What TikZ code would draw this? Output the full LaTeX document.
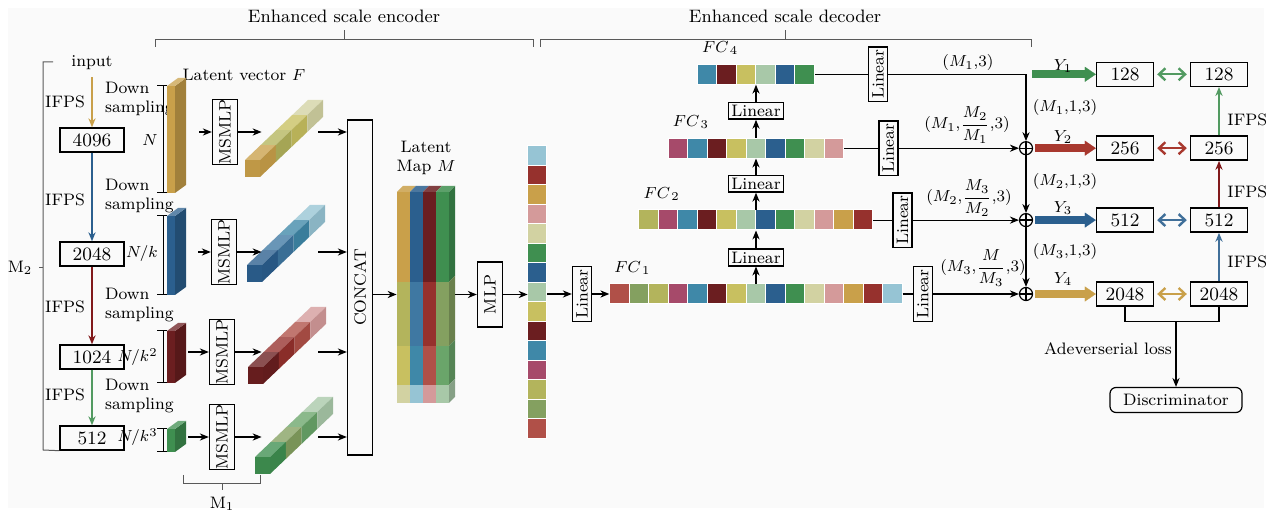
\documentclass[tikz,border=0pt]{standalone}
\usepackage{graphicx}
\usetikzlibrary{positioning,arrows.meta,calc}

\definecolor{pGold}{HTML}{C9A04A}
\definecolor{pOlive}{HTML}{B3B45C}
\definecolor{pYellow}{HTML}{C8C060}
\definecolor{pPale}{HTML}{D2D2A2}
\definecolor{pBlue}{HTML}{2B5F8E}
\definecolor{pSteel}{HTML}{3F78A2}
\definecolor{pTeal}{HTML}{3F88A8}
\definecolor{pLblue}{HTML}{96C4D4}
\definecolor{pDred}{HTML}{6B1E20}
\definecolor{pRed}{HTML}{96312D}
\definecolor{pBrick}{HTML}{B05048}
\definecolor{pPink}{HTML}{D49A9A}
\definecolor{pMag}{HTML}{A64A6A}
\definecolor{pGreen}{HTML}{3F8F50}
\definecolor{pOgreen}{HTML}{84A060}
\definecolor{pLgreen}{HTML}{6AA56A}
\definecolor{pPgreen}{HTML}{A8C8A8}
\definecolor{pArrRed}{HTML}{A8382E}
\definecolor{pBg}{HTML}{FAFAFA}

\begin{document}
\begin{tikzpicture}[
    x=0.5pt, y=-0.5pt,
    >={Stealth[length=4.5pt,width=3.6pt]},
    every node/.style={font=\fontsize{8.3}{9.3}\selectfont},
    head/.style={font=\fontsize{9}{10}\selectfont},
    numbox/.style={draw, line width=0.7pt, minimum width=32pt, minimum height=12pt, inner sep=0pt, font=\fontsize{9.4}{11}\selectfont},
    vbox/.style={draw, line width=0.7pt, inner sep=0pt},
    linbox/.style={draw, line width=0.7pt, inner sep=1.3pt},
    cellrow/.style={inner sep=0pt, minimum height=10pt},
    cell/.style={draw=white, line width=0.2pt},
    bracketline/.style={draw=black!65, line width=0.5pt},
    flow/.style={->, line width=0.55pt},
    ifps/.style={->, line width=1pt},
    fat/.style={-{Triangle[length=5.5pt,width=7.5pt,line width=0.1pt]}, line width=3.8pt, shorten <=1pt},
    dblarrow/.style={{Straight Barb[length=3.2pt,width=6pt]}-{Straight Barb[length=3.2pt,width=6pt]}, line width=1.2pt, shorten <=1.5pt, shorten >=1.5pt},
    oplus/.style={circle, draw, line width=0.6pt, inner sep=0pt, minimum size=6.5pt,
        path picture={\draw[line width=0.6pt] (path picture bounding box.north) -- (path picture bounding box.south)
            (path picture bounding box.west) -- (path picture bounding box.east);}}
]

\fill[white] (0,0) rectangle (1270,512);
\fill[pBg] (8,8) rectangle (1264,508);
\useasboundingbox (0,0) rectangle (1270,512);

% encoder / decoder brackets
\node[head] (encLab) at (344,16) {Enhanced scale encoder};
\draw[bracketline] (155,47) -- (155,40) -- (533,40) -- (533,47) (344,40) -- (344,30);
\node[head] (decLab) at (785,16) {Enhanced scale decoder};
\draw[bracketline] (540,47) -- (540,40) -- (1031,40) -- (1031,47) (785,40) -- (785,30);

% sampling chain
\node (inp) at (92,63) {input};
\node[numbox] (n4096) at (92,140) {4096};
\node[numbox] (n2048) at (92,254) {2048};
\node[numbox] (n1024) at (92,357) {1024};
\node[numbox] (n512) at (92,438) {512};
\draw[ifps, pGold] (inp) -- (n4096);
\draw[ifps, pBlue] (n4096) -- (n2048);
\draw[ifps, pDred!85!red] (n2048) -- (n1024);
\draw[ifps, pGreen!90!white] (n1024) -- (n512);
\foreach \ya/\yb [count=\k] in {102/99, 200/196, 307/305, 395/396}{
    \node (ifpsL\k) at (65,\ya) {IFPS};
    \node[anchor=west, align=left] (downL\k) at (98,\yb) {Down\\sampling};
}
\node (mTwo) at (20,268) {M$_2$};
\draw[bracketline] (53,62) -- (43,62) -- (43,450) -- (n512.south west);
\draw[bracketline] (43,268) -- (mTwo);

% latent vectors F
\node (latF) at (244,75) {Latent vector $F$};
\foreach \yt/\yb/\c/\lab/\ly/\ax/\ay [count=\k] in {
    86/193/pGold/{$N$}/140/199/132,
    216/295/pBlue/{$N/k$}/254/198/252,
    331/383/pDred/{$N/k^2$}/357/188/352,
    429/452/pGreen/{$N/k^3$}/437/188/437}{
    \fill[\c] (167,\yt) rectangle (175,\yb);
    \fill[\c!80!black] (175,\yt) -- (186,{\yt-8}) -- (186,{\yb-8}) -- (175,\yb) -- cycle;
    \fill[\c!75!white] (167,\yt) -- (178,{\yt-8}) -- (186,{\yt-8}) -- (175,\yt) -- cycle;
    \draw[bracketline, draw=black] (157,\yt) -- (167,\yt) (163,\yt) -- (163,\yb) (157,\yb) -- (167,\yb);
    \node[anchor=east, inner sep=1pt] (sizeL\k) at (160,\ly) {\lab};
    \coordinate (bar\k) at (\ax,\ay);
}

\node[vbox, minimum width=12.5pt, minimum height=167.5pt] (concat) at (360,287.5) {\rotatebox{90}{CONCAT}};

% MSMLP rows
\foreach \mx/\my/\fx/\fy/\cA/\cB/\cC/\cD [count=\k] in {
    225/132/245/160/pGold/pOlive/pYellow/pPale,
    224/252/247/265/pBlue/pSteel/pTeal/pLblue,
    222/352/248/367/pDred/pRed/pBrick/pPink,
    222/437/255/457/pGreen/pOgreen/pLgreen/pPgreen}{
    \node[vbox, minimum width=12.5pt, minimum height=32.5pt] (msmlp\k) at (\mx,\my) {\rotatebox{90}{MSMLP}};
    \foreach \c [count=\i from 0] in {\cA,\cB,\cC,\cD}{
        \fill[\c!78!white] ({\fx+15.75*\i},{\fy-15*\i}) -- ++(15,0) -- ++(15.75,-15) -- ++(-15,0) -- cycle;
        \fill[\c!92!black] ({\fx+15+15.75*\i},{\fy-15*\i}) -- ++(0,17) -- ++(15.75,-15) -- ++(0,-17) -- cycle;
    }
    \fill[\cA!95!black] (\fx,\fy) rectangle ++(15,17);
    \node[inner sep=0pt, minimum width=28pt, minimum height=2pt] (feat\k) at (290,\my) {};
    \draw[flow] (bar\k) -- (msmlp\k);
    \draw[flow] (msmlp\k) -- (feat\k);
    \draw[flow] (feat\k) -- (feat\k -| concat.west);
}
\node (mOne) at (222,504) {M$_1$};
\draw[bracketline] (183,475) -- (183,484) -- (260,484) -- (260,475) (222,484) -- (mOne);

% latent map M
\foreach \ya/\yb/\ca/\cb/\cc/\cd in {
    192/282/pGold/pBlue/pDred/pGreen,
    282/346/pOlive/pSteel/pRed/pOgreen,
    346/385/pYellow/pTeal/pBrick/pLgreen,
    385/403/pPale/pLblue/pPink/pPgreen}{
    \foreach \c [count=\i from 0] in {\ca,\cb,\cc,\cd}
        \fill[\c] ({397+13*\i},\ya) rectangle ++(13,{\yb-\ya});
    \fill[\cd!80!black] (449,\ya) -- (455,{\ya-6}) -- (455,{\yb-6}) -- (449,\yb) -- cycle;
}
\foreach \c [count=\i from 0] in {pGold,pBlue,pDred,pGreen}
    \fill[\c!85!white] ({397+13*\i},192) -- ++(6,-6) -- ++(13,0) -- ++(-6,6) -- cycle;
\node[inner sep=0pt, minimum width=29pt, minimum height=108.5pt] (latmap) at (426,294.5) {};
\node[align=center, above=2pt of latmap] (latLab) {Latent\\Map $M$};
\draw[flow] (concat.east |- latmap) -- (latmap);

\node[vbox, minimum width=12.5pt, minimum height=32.5pt] (mlp) at (490,294.5) {\rotatebox{90}{MLP}};
\draw[flow] (latmap) -- (mlp);

% feature vector
\node[inner sep=0pt, minimum width=9.5pt, minimum height=146.25pt] (vec) at (537.5,292.25) {};
\foreach \c [count=\i from 0] in {pLblue,pRed,pGold,pPink,pPale,pGreen,pBlue,pPgreen,pYellow,pDred,pTeal,pMag,pOlive,pOgreen,pBrick}
    \fill[\c, cell] ([yshift=-\i*9.75pt]vec.north west) rectangle ++(19,19.5);
\draw[flow] (mlp) -- (mlp -| vec.west);

\node[linbox, minimum width=9.5pt] (linIn) at (582,294) {\rotatebox{90}{Linear}};
\draw[flow] (vec.east |- linIn) -- (linIn);

% decoder rows
\node[cellrow, minimum width=146.25pt] (fc1) at (756,294) {};
\node[linbox, above=8.5pt of fc1] (linU1) {Linear};
\node[cellrow, minimum width=117pt, above=9pt of linU1] (fc2) {};
\node[linbox, above=8.5pt of fc2] (linU2) {Linear};
\node[cellrow, minimum width=87.75pt, above=8pt of linU2] (fc3) {};
\node[linbox, above=9pt of fc3] (linU3) {Linear};
\node[cellrow, minimum width=58.5pt, above=8.5pt of linU3] (fc4) {};
\foreach \c [count=\i from 0] in {pBrick,pOgreen,pOlive,pMag,pTeal,pDred,pYellow,pPgreen,pBlue,pGreen,pPale,pPink,pGold,pRed,pLblue}
    \fill[\c, cell] ([xshift=\i*9.75pt]fc1.north west) rectangle ++(19.5,20);
\foreach \c [count=\i from 0] in {pOlive,pMag,pTeal,pDred,pYellow,pPgreen,pBlue,pGreen,pPale,pPink,pGold,pRed}
    \fill[\c, cell] ([xshift=\i*9.75pt]fc2.north west) rectangle ++(19.5,20);
\foreach \c [count=\i from 0] in {pMag,pTeal,pDred,pYellow,pPgreen,pBlue,pGreen,pPale,pPink}
    \fill[\c, cell] ([xshift=\i*9.75pt]fc3.north west) rectangle ++(19.5,20);
\foreach \c [count=\i from 0] in {pTeal,pDred,pYellow,pPgreen,pBlue,pGreen}
    \fill[\c, cell] ([xshift=\i*9.75pt]fc4.north west) rectangle ++(19.5,20);
\foreach \k in {1,...,4}
    \node[above right=1pt and -1pt of fc\k.north west] (fcLab\k) {$FC_{\,\k}$};
\draw[flow] (linIn) -- (linIn -| fc1.west);
\draw[flow] (fc1) -- (linU1);
\draw[flow] (linU1) -- (fc2);
\draw[flow] (fc2) -- (linU2);
\draw[flow] (linU2) -- (fc3);
\draw[flow] (fc3) -- (linU3);
\draw[flow] (linU3) -- (fc4);

\node[linbox, minimum width=9.5pt, right=26.5pt of fc4] (linR4) {\rotatebox{90}{Linear}};
\node[linbox, minimum width=9.5pt, right=17pt of fc3] (linR3) {\rotatebox{90}{Linear}};
\node[linbox, minimum width=9.5pt, right=9.5pt of fc2] (linR2) {\rotatebox{90}{Linear}};
\node[linbox, minimum width=9.5pt, right=5pt of fc1] (linR1) {\rotatebox{90}{Linear}};
\foreach \k in {1,...,4}
    \draw[line width=0.55pt] (fc\k) -- (linR\k);

% fusion
\coordinate (colX) at (1026,0);
\coordinate (colO) at (1125,0);
\coordinate (colG) at (1219,0);
\node[oplus] (opl2) at (colX |- fc3) {};
\node[oplus] (opl3) at (colX |- fc2) {};
\node[oplus] (opl4) at (colX |- fc1) {};
\draw[flow] (linR4) -| (opl2);
\draw[flow] (linR3) -- (opl2);
\draw[flow] (linR2) -- (opl3);
\draw[flow] (linR1) -- (opl4);
\draw[flow] (opl2) -- (opl3);
\draw[flow] (opl3) -- (opl4);
\node (tagA) at (968,63) {$(M_1{,}3)$};
\node (tagB) at (967,125) {$(M_1{,}\displaystyle\frac{M_2}{M_1}{,}3)$};
\node (tagC) at (969,198) {$(M_2{,}\displaystyle\frac{M_3}{M_2}{,}3)$};
\node (tagD) at (983,268) {$(M_3{,}\displaystyle\frac{M}{M_3}{,}3)$};

% outputs
\path (colX |- linR4) ++(4,0) coordinate (yOne);
\node[numbox, minimum width=28.5pt] (o128) at (colO |- linR4) {128};
\node[numbox, minimum width=28.5pt] (o256) at (colO |- opl2) {256};
\node[numbox, minimum width=28.5pt] (o512) at (colO |- opl3) {512};
\node[numbox, minimum width=28.5pt] (o2048) at (colO |- opl4) {2048};
\node[numbox, minimum width=28.5pt] (g128) at (colG |- linR4) {128};
\node[numbox, minimum width=28.5pt] (g256) at (colG |- opl2) {256};
\node[numbox, minimum width=28.5pt] (g512) at (colG |- opl3) {512};
\node[numbox, minimum width=28.5pt] (g2048) at (colG |- opl4) {2048};
\draw[fat, pGreen] (yOne) -- (o128);
\draw[fat, pArrRed] (opl2) -- (o256);
\draw[fat, pBlue] (opl3) -- (o512);
\draw[fat, pGold] (opl4) -- (o2048);
\node (yLab1) at (1063,66) {$Y_1$};
\node (yLab2) at (1063,137) {$Y_2$};
\node (yLab3) at (1063,208) {$Y_3$};
\node (yLab4) at (1063,279) {$Y_4$};
\node (sizeR1) at (1065,108) {$(M_1{,}1{,}3)$};
\node (sizeR2) at (1065,182) {$(M_2{,}1{,}3)$};
\node (sizeR3) at (1065,252) {$(M_3{,}1{,}3)$};
\draw[dblarrow, pGreen!90!white] (o128) -- (g128);
\draw[dblarrow, pArrRed] (o256) -- (g256);
\draw[dblarrow, pBlue!90!white] (o512) -- (g512);
\draw[dblarrow, pGold] (o2048) -- (g2048);
\draw[ifps, pBlue!90!white] (g2048) -- (g512);
\draw[ifps, pDred!85!red] (g512) -- (g256);
\draw[ifps, pGreen!90!white] (g256) -- (g128);
\node[anchor=west, inner sep=1pt] (ifpsR1) at (1225,120) {IFPS};
\node[anchor=west, inner sep=1pt] (ifpsR2) at (1225,192) {IFPS};
\node[anchor=west, inner sep=1pt] (ifpsR3) at (1225,262) {IFPS};

% discriminator
\path (o2048.south) ++(0,15) coordinate (advL);
\draw[line width=0.6pt] (o2048.south) -- (advL) -| (g2048.south);
\node[draw, rounded corners=3pt, line width=0.6pt, minimum width=66pt, minimum height=12.5pt] (disc) at (1176,400) {Discriminator};
\draw[flow] (disc |- advL) -- (disc);
\node (advLab) at (1108,349) {Adeverserial loss};

\end{tikzpicture}
\end{document}
